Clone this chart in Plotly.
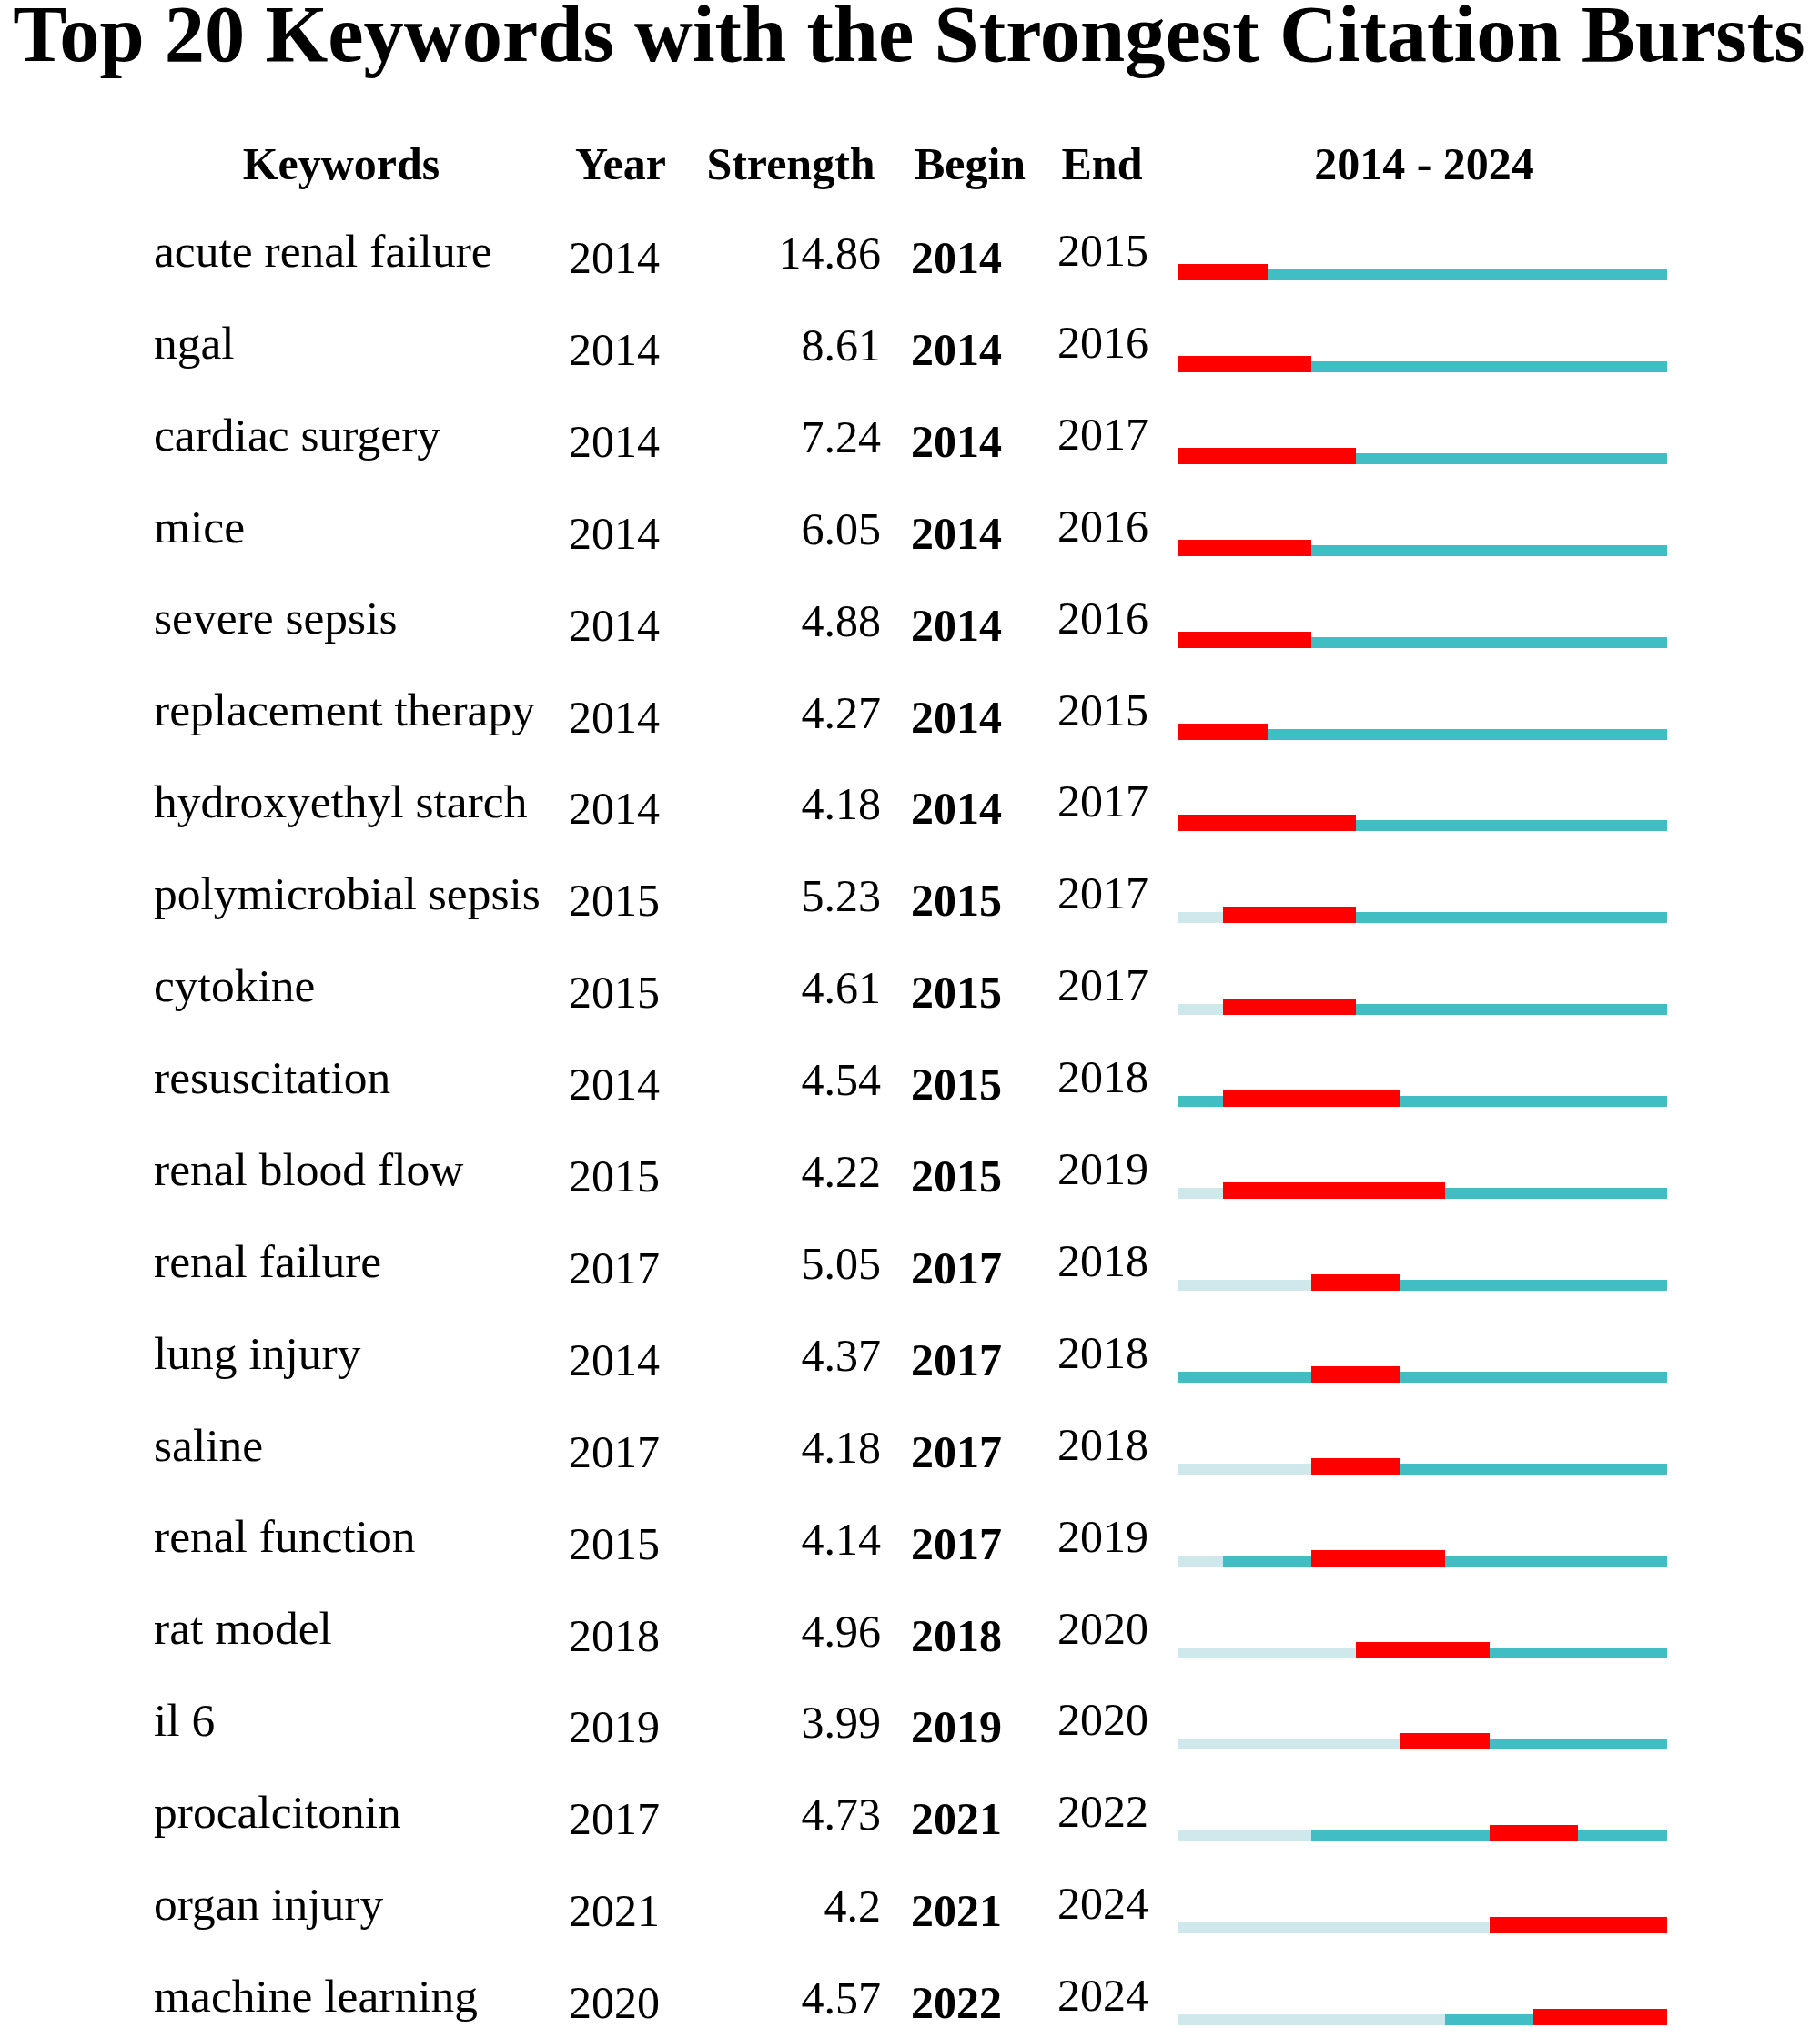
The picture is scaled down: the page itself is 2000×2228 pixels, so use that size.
import plotly.graph_objects as go

# ---------------- data ----------------
keywords = ["acute renal failure", "ngal", "cardiac surgery", "mice", "severe sepsis",
            "replacement therapy", "hydroxyethyl starch", "polymicrobial sepsis", "cytokine",
            "resuscitation", "renal blood flow", "renal failure", "lung injury", "saline",
            "renal function", "rat model", "il 6", "procalcitonin", "organ injury",
            "machine learning"]
year = [2014, 2014, 2014, 2014, 2014, 2014, 2014, 2015, 2015, 2014,
        2015, 2017, 2014, 2017, 2015, 2018, 2019, 2017, 2021, 2020]
strength = [14.86, 8.61, 7.24, 6.05, 4.88, 4.27, 4.18, 5.23, 4.61, 4.54,
            4.22, 5.05, 4.37, 4.18, 4.14, 4.96, 3.99, 4.73, 4.2, 4.57]
begin = [2014, 2014, 2014, 2014, 2014, 2014, 2014, 2015, 2015, 2015,
         2015, 2017, 2017, 2017, 2017, 2018, 2019, 2021, 2021, 2022]
end = [2015, 2016, 2017, 2016, 2016, 2015, 2017, 2017, 2017, 2018,
       2019, 2018, 2018, 2018, 2019, 2020, 2020, 2022, 2024, 2024]
headers = ["Keywords", "Year", "Strength", "Begin", "End", "2014 - 2024"]
first_year, last_year = 2014, 2024

# ---------------- style / layout constants ----------------
W, H = 2000, 2228
ROW_PX = 100.9          # pixel height of a row
Y0_PX = 300.0           # pixel position of row index 0
PX_PER_YEAR = 48.8
BAR_LEFT_PX = 1295.0
FONT = "Liberation Serif, Times New Roman, serif"
RED = "#ff0000"
TEAL = "#40bec3"
LIGHT = "#cfe8eb"

n = len(keywords)
rows = list(range(n))


def yoff(px):
    """convert a pixel offset from row origin to row units"""
    return (px - Y0_PX) / ROW_PX


fig = go.Figure()

# ---- burst bars (xaxis in years) ----
teal_w = 12 / ROW_PX
red_w = 18 / ROW_PX
teal_y = [r + yoff(302) for r in rows]
red_y = [r + yoff(299) for r in rows]

fig.add_trace(go.Bar(
    orientation="h", y=teal_y, base=[first_year] * n,
    x=[y - first_year for y in year], width=teal_w,
    marker=dict(color=LIGHT, line=dict(width=0)), xaxis="x", yaxis="y",
    showlegend=False, hoverinfo="skip"))
fig.add_trace(go.Bar(
    orientation="h", y=teal_y, base=year,
    x=[last_year + 1 - y for y in year], width=teal_w,
    marker=dict(color=TEAL, line=dict(width=0)), xaxis="x", yaxis="y",
    showlegend=False, hoverinfo="skip"))
fig.add_trace(go.Bar(
    orientation="h", y=red_y, base=begin,
    x=[e - b + 1 for b, e in zip(begin, end)], width=red_w,
    marker=dict(color=RED, line=dict(width=0)), xaxis="x", yaxis="y",
    showlegend=False, hoverinfo="skip"))

# ---- table text (xaxis2 in layout pixels) ----
def text_trace(xpx, ys, texts, pos, size, bold=False):
    return go.Scatter(
        x=[xpx] * len(texts), y=ys, text=texts, mode="text",
        textposition=pos, xaxis="x2", yaxis="y",
        textfont=dict(family=FONT, size=size, color="black",
                      weight="bold" if bold else "normal"),
        showlegend=False, hoverinfo="skip", cliponaxis=False)


def ctr(baseline_px, size):
    return baseline_px - 0.35 * size

fig.add_trace(text_trace(169, [r + yoff(ctr(298, 51.5)) for r in rows], keywords,
                         "middle right", 51.5))
fig.add_trace(text_trace(675, [r + yoff(ctr(305, 50)) for r in rows],
                         [str(v) for v in year], "middle center", 50))
fig.add_trace(text_trace(968, [r + yoff(ctr(300, 50)) for r in rows],
                         [f"{v:g}" for v in strength], "middle left", 50))
fig.add_trace(text_trace(1051, [r + yoff(ctr(305, 50)) for r in rows],
                         [str(v) for v in begin], "middle center", 50, bold=True))
fig.add_trace(text_trace(1212, [r + yoff(ctr(297, 50)) for r in rows],
                         [str(v) for v in end], "middle center", 50))

# header row
header_x = [375, 682, 869, 1066, 1211, 1565]
hy = yoff(ctr(202, 50))
fig.add_trace(go.Scatter(
    x=header_x, y=[hy] * len(headers), text=headers, mode="text",
    textposition="middle center", xaxis="x2", yaxis="y",
    textfont=dict(family=FONT, size=50, color="black", weight="bold"),
    showlegend=False, hoverinfo="skip", cliponaxis=False))

# ---------------- axes ----------------
yr0 = first_year - BAR_LEFT_PX / PX_PER_YEAR
yr1 = yr0 + W / PX_PER_YEAR
r_top = -Y0_PX / ROW_PX
r_bot = (H - Y0_PX) / ROW_PX

fig.update_layout(
    width=W, height=H,
    margin=dict(l=0, r=0, t=0, b=0, pad=0),
    paper_bgcolor="white", plot_bgcolor="white",
    barmode="overlay", bargap=0,
    title=dict(text="<b>Top 20 Keywords with the Strongest Citation Bursts</b>",
               x=0.4995, xanchor="center", yref="container",
               y=1 - ctr(67, 88.5) / H, yanchor="middle",
               font=dict(family=FONT, size=88.5, color="black")),
    xaxis=dict(range=[yr0, yr1], domain=[0, 1], visible=False, fixedrange=True),
    xaxis2=dict(range=[0, W], domain=[0, 1], overlaying="x", visible=False,
                fixedrange=True),
    yaxis=dict(range=[r_bot, r_top], domain=[0, 1], visible=False, fixedrange=True),
)

fig.write_html("out.html",
               config={"displayModeBar": False},
               post_script="document.body.style.margin='0';"
                           "document.body.style.padding='0';")
